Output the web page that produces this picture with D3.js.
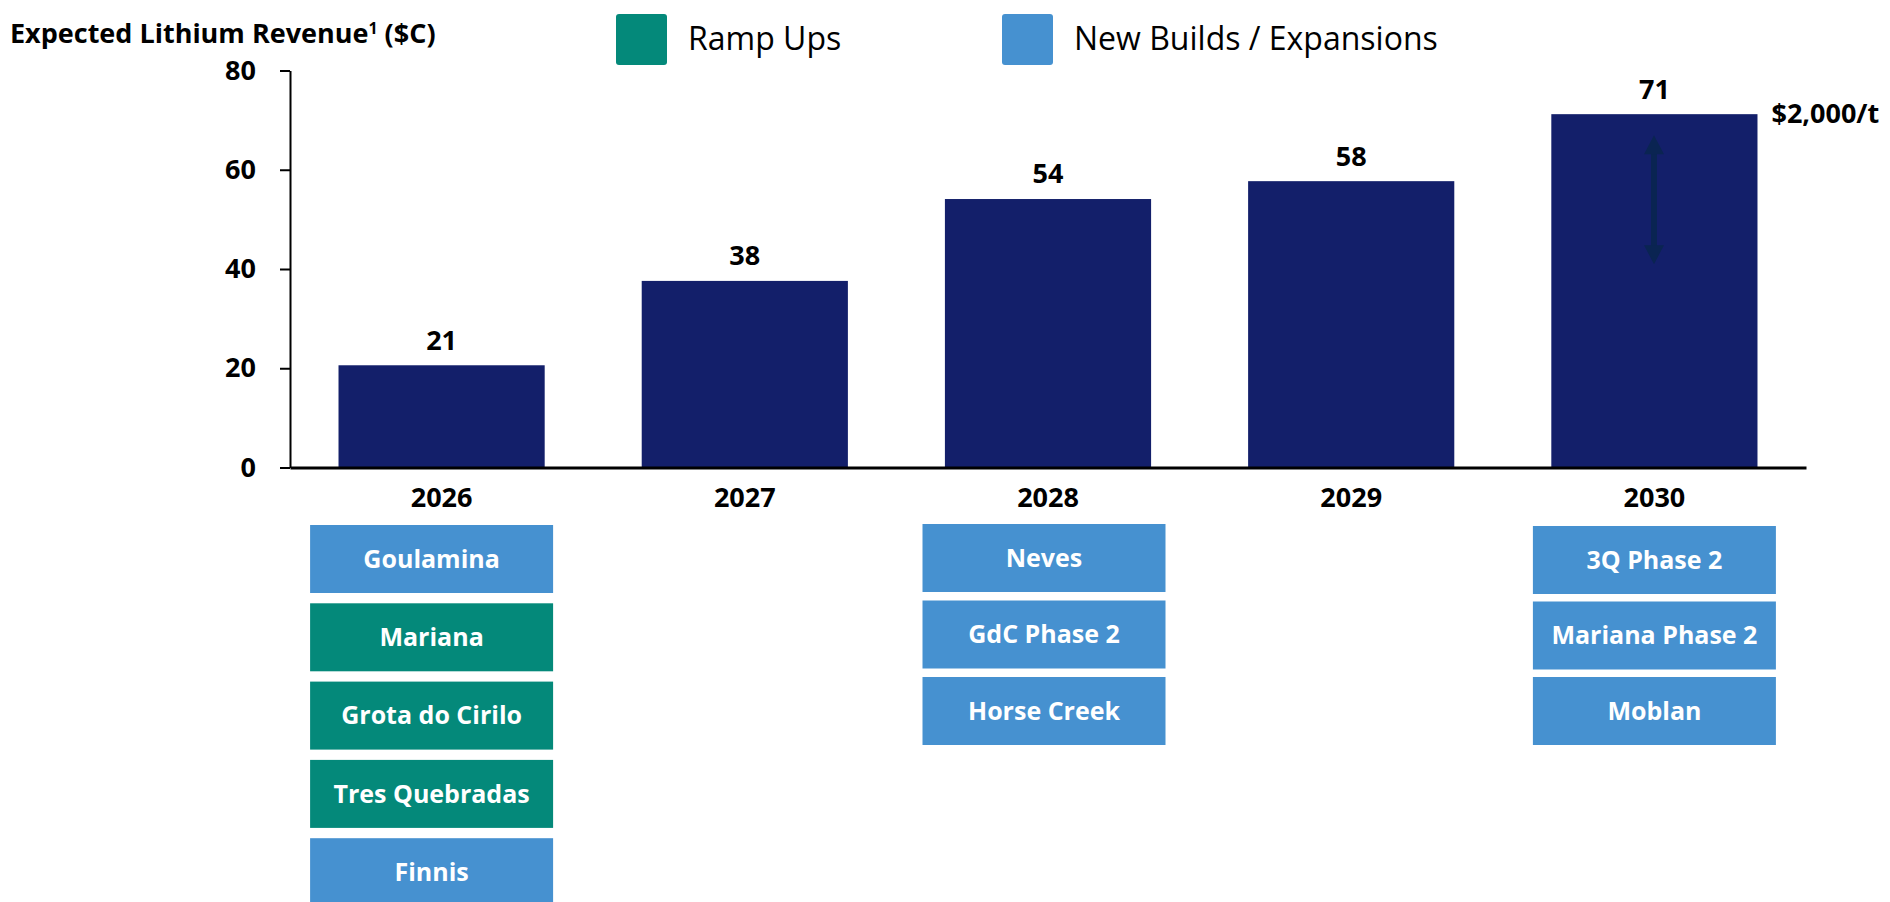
<!DOCTYPE html>
<html>
<head>
<meta charset="utf-8">
<script src="https://cdn.jsdelivr.net/npm/d3@7"></script>
<style>
  body { margin: 0; background: #fff; }
  svg { display: block; font-family: 'Open Sans', sans-serif; }
</style>
</head>
<body>
<svg width="1890" height="902"></svg>
<script>
// data
const years = ['2026', '2027', '2028', '2029', '2030'];
const revenue = [20.6, 37.6, 54.1, 57.7, 71.2];
const yTicks = [0, 20, 40, 60, 80];

const projects2026 = ['Goulamina', 'Mariana', 'Grota do Cirilo', 'Tres Quebradas', 'Finnis'];
const types2026 = ['new', 'ramp', 'ramp', 'ramp', 'new'];
const projects2028 = ['Neves', 'GdC Phase 2', 'Horse Creek'];
const types2028 = ['new', 'new', 'new'];
const projects2030 = ['3Q Phase 2', 'Mariana Phase 2', 'Moblan'];
const types2030 = ['new', 'new', 'new'];

const legendKeys = ['ramp', 'new'];
const legendLabels = ['Ramp Ups', 'New Builds / Expansions'];

const color = d3.scaleOrdinal()
  .domain(legendKeys)
  .range(['#04897A', '#4691D0']);

const barColor = '#131F6A';

const svg = d3.select('svg');

const x = d3.scaleBand()
  .domain(years)
  .range([290, 1806])
  .paddingInner(0.32)
  .paddingOuter(0.16);

const y = d3.scaleLinear()
  .domain([0, 80])
  .range([467.5, 70.5]);

// title
const title = svg.append('text')
  .attr('x', 10)
  .attr('y', 34)
  .attr('dy', '0.35em')
  .attr('font-size', 27)
  .attr('font-weight', 700)
  .attr('fill', '#000');
title.append('tspan').text('Expected Lithium Revenue');
title.append('tspan').attr('font-size', 16).attr('dy', '-0.6em').text('1');
title.append('tspan').attr('dy', '0.35em').text(' ($C)');

// legend
const legend = svg.append('g').selectAll('g')
  .data(legendKeys)
  .enter().append('g')
    .attr('transform', (d, i) => `translate(${[616, 1002][i]}, 14)`);

legend.append('rect')
  .attr('width', 51)
  .attr('height', 51)
  .attr('rx', 3)
  .attr('fill', d => color(d));

legend.append('text')
  .attr('x', 72)
  .attr('y', 25)
  .attr('dy', '0.35em')
  .attr('font-size', 32)
  .attr('fill', '#000')
  .text((d, i) => legendLabels[i]);

// bars
const bars = svg.append('g');
bars.selectAll('rect')
  .data(revenue)
  .enter().append('rect')
    .attr('x', (d, i) => x(years[i]))
    .attr('y', d => y(d))
    .attr('width', x.bandwidth())
    .attr('height', d => y(0) - y(d))
    .attr('fill', barColor);

bars.selectAll('text')
  .data(revenue)
  .enter().append('text')
    .attr('x', (d, i) => x(years[i]) + x.bandwidth() / 2)
    .attr('y', d => y(d) - 25)
    .attr('dy', '0.35em')
    .attr('text-anchor', 'middle')
    .attr('font-size', 27)
    .attr('font-weight', 700)
    .text(d => d3.format('.0f')(d));

// price annotation on the last bar
const last = revenue.length - 1;
const cx = Math.round(x(years[last]) + x.bandwidth() / 2);
const barTop = y(revenue[last]);
const arrowCol = '#0A2452';
svg.append('line')
  .attr('x1', cx).attr('x2', cx)
  .attr('y1', barTop + 36).attr('y2', barTop + 135)
  .attr('stroke', arrowCol)
  .attr('stroke-width', 6);
svg.append('path')
  .attr('d', `M${cx},${barTop + 21}l10,19h-20z M${cx},${barTop + 150}l10,-19h-20z`)
  .attr('fill', arrowCol);

svg.append('text')
  .attr('x', x(years[last]) + x.bandwidth() + 14)
  .attr('y', barTop - 1)
  .attr('dy', '0.35em')
  .attr('font-size', 27)
  .attr('font-weight', 700)
  .text('$2,000/t');

// axes
const yAxis = svg.append('g')
  .attr('transform', 'translate(290, 0)')
  .call(d3.axisLeft(y).tickValues(yTicks).tickSize(10).tickSizeOuter(0).tickPadding(24));
yAxis.select('.domain').attr('stroke-width', 2);
yAxis.selectAll('.tick line').attr('stroke-width', 2);
yAxis.selectAll('.tick text')
  .attr('font-size', 27)
  .attr('font-weight', 700)
  .attr('font-family', 'Open Sans')
  .attr('fill', '#000');

const xAxis = svg.append('g')
  .attr('transform', `translate(0, ${y(0)})`)
  .call(d3.axisBottom(x).tickSize(0).tickSizeOuter(0));
xAxis.select('.domain').attr('stroke-width', 3);
xAxis.selectAll('.tick text')
  .attr('y', 30)
  .attr('dy', '0.35em')
  .attr('font-size', 27)
  .attr('font-weight', 700)
  .attr('font-family', 'Open Sans')
  .attr('fill', '#000');

// project boxes under the years
const columns = [
  {year: '2026', names: projects2026, types: types2026, nudge: -10, top: 525, pitch: 78.3},
  {year: '2028', names: projects2028, types: types2028, nudge: -4, top: 524, pitch: 76.5},
  {year: '2030', names: projects2030, types: types2030, nudge: 0, top: 526, pitch: 75.5}
];
const boxW = 243;
const boxH = 68;

columns.forEach(col => {
  const mid = x(col.year) + x.bandwidth() / 2 + col.nudge;
  const box = svg.append('g').selectAll('g')
    .data(col.names)
    .enter().append('g')
      .attr('transform', (d, i) => `translate(${mid - boxW / 2}, ${col.top + i * col.pitch})`);

  box.append('rect')
    .attr('width', boxW)
    .attr('height', boxH)
    .attr('fill', (d, i) => color(col.types[i]));

  box.append('text')
    .attr('x', boxW / 2)
    .attr('y', boxH / 2)
    .attr('dy', '0.35em')
    .attr('text-anchor', 'middle')
    .attr('font-size', 25)
    .attr('font-weight', 700)
    .attr('fill', '#fff')
    .text(d => d);
});
</script>
</body>
</html>
